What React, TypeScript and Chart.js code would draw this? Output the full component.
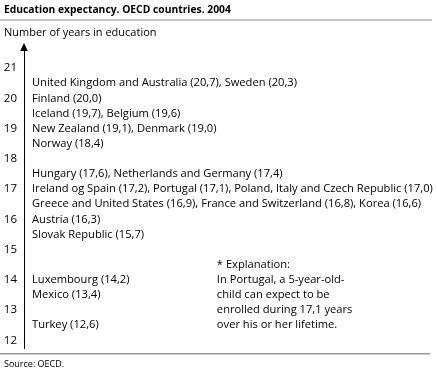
import React, { useEffect, useRef } from "react";
import { Chart, registerables } from "chart.js";

Chart.register(...registerables);

const titleText = "Education expectancy. OECD countries. 2004";
const axisTitle = "Number of years in education";
const sourceText = "Source: OECD.";

const yTickValues = [12, 13, 14, 15, 16, 17, 18, 19, 20, 21];

const rowLabels = [
  "United Kingdom and Australia (20,7), Sweden (20,3)",
  "Finland (20,0)",
  "Iceland (19,7), Belgium (19,6)",
  "New Zealand (19,1), Denmark (19,0)",
  "Norway (18,4)",
  "Hungary (17,6), Netherlands and Germany (17,4)",
  "Ireland og Spain (17,2), Portugal (17,1), Poland, Italy and Czech Republic (17,0)",
  "Greece and United States (16,9), France and Switzerland (16,8), Korea (16,6)",
  "Austria (16,3)",
  "Slovak Republic (15,7)",
  "Luxembourg (14,2)",
  "Mexico (13,4)",
  "Turkey (12,6)",
];
const rowLevels = [20.5, 20, 19.5, 19, 18.5, 17.5, 17, 16.5, 16, 15.5, 14, 13.5, 12.5];

const noteLines = [
  "* Explanation:",
  "In Portugal, a 5-year-old-",
  "child can expect to be",
  "enrolled during 17,1 years",
  "over his or her lifetime.",
];
const noteLevels = [14.5, 14, 13.5, 13, 12.5];

const FONT = "'Open Sans', sans-serif";

const decorPlugin = {
  id: "decor",
  afterDraw(chart: any) {
    const ctx = chart.ctx;
    const area = chart.chartArea;
    ctx.save();
    // title
    ctx.fillStyle = "#000";
    ctx.textBaseline = "middle";
    ctx.textAlign = "left";
    ctx.font = `bold 10.3px ${FONT}`;
    ctx.fillText(titleText, 4, 10);
    // top rule
    ctx.fillStyle = "#c4c4c4";
    ctx.fillRect(0, 19, 432, 2);
    // axis title
    ctx.fillStyle = "#000";
    ctx.font = `11px ${FONT}`;
    ctx.fillText(axisTitle, 4, 33);
    // arrow
    const ax = area.left;
    ctx.beginPath();
    ctx.moveTo(ax, area.top - 7);
    ctx.lineTo(ax - 3.8, area.top + 1);
    ctx.lineTo(ax + 3.8, area.top + 1);
    ctx.closePath();
    ctx.fill();
    // row labels from dataset elements
    const meta = chart.getDatasetMeta(0);
    ctx.font = `11.15px ${FONT}`;
    meta.data.forEach((el: any, i: number) => {
      ctx.fillText(rowLabels[i], el.x + 8, el.y);
    });
    // note
    const meta2 = chart.getDatasetMeta(1);
    meta2.data.forEach((el: any, i: number) => {
      ctx.fillText(noteLines[i], el.x, el.y);
    });
    // bottom rule
    ctx.fillStyle = "#9a9a9a";
    ctx.fillRect(0, 353, 430, 1.5);
    ctx.fillStyle = "#000";
    ctx.font = `9px ${FONT}`;
    ctx.fillText(sourceText, 4, 364);
    ctx.restore();
  },
};

export default function App() {
  const ref = useRef<HTMLCanvasElement>(null);
  useEffect(() => {
    document.body.style.margin = "0";
    const chart = new Chart(ref.current!, {
      type: "scatter",
      data: {
        datasets: [
          {
            data: rowLevels.map((v) => ({ x: 0, y: v })),
            pointRadius: 0,
          },
          {
            data: noteLevels.map((v) => ({ x: 0.467, y: v })),
            pointRadius: 0,
          },
        ],
      },
      options: {
        animation: false,
        responsive: false,
        events: [],
        layout: { padding: { left: 0, right: 0, top: 50, bottom: 22 } },
        plugins: { legend: { display: false }, title: { display: false }, tooltip: { enabled: false } },
        scales: {
          x: { type: "linear", min: 0, max: 1, display: false },
          y: {
            type: "linear",
            min: 11.75,
            max: 21.6,
            afterBuildTicks: (scale: any) => {
              scale.ticks = yTickValues.map((v) => ({ value: v }));
            },
            afterFit: (scale: any) => {
              scale.width = 24;
            },
            grid: { display: false, drawTicks: false },
            border: { display: true, color: "#000", width: 1 },
            ticks: {
              padding: 7,
              color: "#000",
              font: { family: FONT, size: 11.5 },
              callback: (v: any) => String(v),
            },
          },
        },
      },
      plugins: [decorPlugin],
    });
    return () => chart.destroy();
  }, []);
  return <canvas ref={ref} width={437} height={370} style={{ display: "block" }} />;
}
